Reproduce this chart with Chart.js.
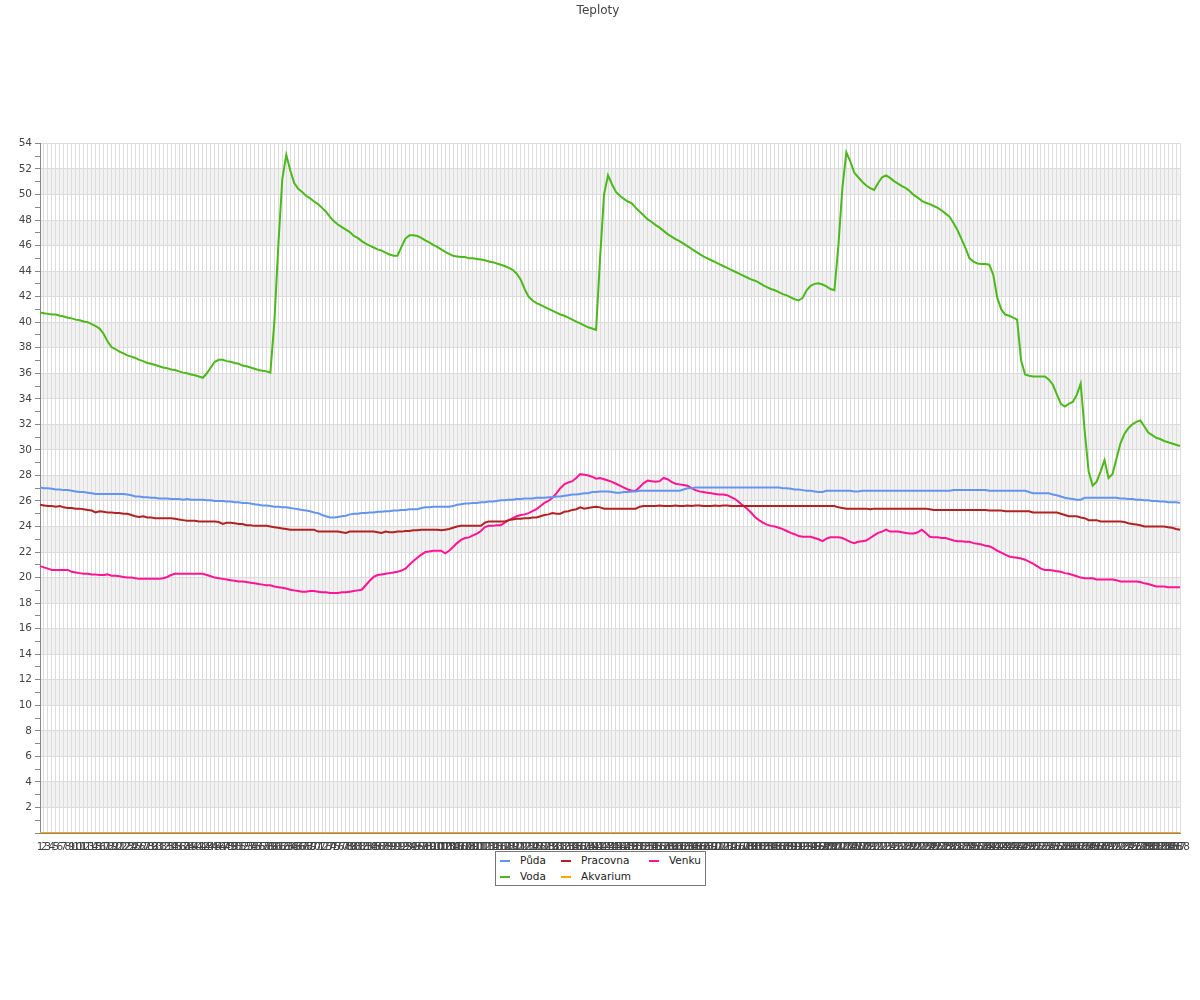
<!DOCTYPE html>
<html>
<head>
<meta charset="utf-8">
<title>Teploty</title>
<script src="https://cdn.jsdelivr.net/npm/chart.js@4.4.0/dist/chart.umd.min.js"></script>
<style>
  body { margin: 0; background: #fff; font-family: "DejaVu Sans", sans-serif; }
  #wrap { position: relative; width: 1200px; height: 1000px; }
  #legenda { position: absolute; left: 495px; top: 851px; width: 209px; height: 33px; border: 1px solid #777; background: #fff; font-size: 10.5px; color: #222; }
  .polozka { position: absolute; white-space: nowrap; line-height: 16px; }
  .polozka i { display: inline-block; width: 10px; height: 2px; vertical-align: middle; margin-right: 10px; }
</style>
</head>
<body>
<div id="wrap">
  <canvas id="graf" width="1200" height="1000"></canvas>
  <div id="legenda"></div>
</div>
<script>
// popisky osy x (vzorky 1..288)
var popisky = [
  1,2,3,4,5,6,7,8,9,10,11,12,13,14,15,16,17,18,19,20,21,22,23,24,25,26,27,28,29,30,
  31,32,33,34,35,36,37,38,39,40,41,42,43,44,45,46,47,48,49,50,51,52,53,54,55,56,57,58,59,60,
  61,62,63,64,65,66,67,68,69,70,71,72,73,74,75,76,77,78,79,80,81,82,83,84,85,86,87,88,89,90,
  91,92,93,94,95,96,97,98,99,100,101,102,103,104,105,106,107,108,109,110,111,112,113,114,115,116,117,118,119,120,
  121,122,123,124,125,126,127,128,129,130,131,132,133,134,135,136,137,138,139,140,141,142,143,144,145,146,147,148,149,150,
  151,152,153,154,155,156,157,158,159,160,161,162,163,164,165,166,167,168,169,170,171,172,173,174,175,176,177,178,179,180,
  181,182,183,184,185,186,187,188,189,190,191,192,193,194,195,196,197,198,199,200,201,202,203,204,205,206,207,208,209,210,
  211,212,213,214,215,216,217,218,219,220,221,222,223,224,225,226,227,228,229,230,231,232,233,234,235,236,237,238,239,240,
  241,242,243,244,245,246,247,248,249,250,251,252,253,254,255,256,257,258,259,260,261,262,263,264,265,266,267,268,269,270,
  271,272,273,274,275,276,277,278,279,280,281,282,283,284,285,286,287,288
];

var puda = [
  27.05,27.0,27.0,26.95,26.9,26.9,26.85,26.85,26.8,26.75,
  26.7,26.7,26.65,26.6,26.55,26.55,26.55,26.55,26.55,26.55,
  26.55,26.55,26.5,26.45,26.35,26.35,26.3,26.3,26.25,26.25,
  26.2,26.2,26.2,26.15,26.15,26.15,26.1,26.15,26.1,26.1,
  26.1,26.1,26.05,26.05,26.0,26.0,26.0,25.95,25.95,25.9,
  25.9,25.85,25.85,25.8,25.75,25.7,25.65,25.65,25.6,25.55,
  25.55,25.5,25.5,25.45,25.4,25.35,25.3,25.25,25.2,25.1,
  25.05,24.9,24.8,24.7,24.7,24.75,24.8,24.85,24.95,25.0,
  25.0,25.05,25.05,25.1,25.1,25.15,25.15,25.2,25.2,25.25,
  25.25,25.3,25.3,25.35,25.35,25.35,25.45,25.5,25.5,25.55,
  25.55,25.55,25.55,25.55,25.6,25.7,25.75,25.8,25.8,25.85,
  25.85,25.9,25.9,25.95,25.95,26.0,26.05,26.05,26.1,26.1,
  26.15,26.15,26.2,26.2,26.2,26.25,26.25,26.25,26.3,26.3,
  26.35,26.35,26.4,26.45,26.5,26.5,26.55,26.6,26.6,26.7,
  26.7,26.75,26.75,26.75,26.7,26.65,26.65,26.7,26.7,26.75,
  26.75,26.8,26.8,26.8,26.8,26.8,26.8,26.8,26.8,26.8,
  26.8,26.8,26.9,27.0,27.0,27.05,27.05,27.05,27.05,27.05,
  27.05,27.05,27.05,27.05,27.05,27.05,27.05,27.05,27.05,27.05,
  27.05,27.05,27.05,27.05,27.05,27.05,27.05,27.0,27.0,26.95,
  26.9,26.9,26.85,26.8,26.8,26.75,26.7,26.7,26.8,26.8,
  26.8,26.8,26.8,26.8,26.8,26.75,26.75,26.8,26.8,26.8,
  26.8,26.8,26.8,26.8,26.8,26.8,26.8,26.8,26.8,26.8,
  26.8,26.8,26.8,26.8,26.8,26.8,26.8,26.8,26.8,26.8,
  26.85,26.85,26.85,26.85,26.85,26.85,26.85,26.85,26.85,26.8,
  26.8,26.8,26.8,26.8,26.8,26.8,26.8,26.8,26.8,26.7,
  26.6,26.6,26.6,26.6,26.6,26.5,26.45,26.35,26.25,26.2,
  26.15,26.1,26.1,26.25,26.25,26.25,26.25,26.25,26.25,26.25,
  26.25,26.25,26.2,26.2,26.15,26.15,26.1,26.1,26.05,26.05,
  26.0,26.0,25.95,25.95,25.9,25.9,25.9,25.85
];

var pracovna = [
  25.7,25.65,25.6,25.6,25.55,25.6,25.5,25.45,25.45,25.4,
  25.4,25.35,25.3,25.25,25.1,25.2,25.15,25.1,25.1,25.05,
  25.05,25.0,25.0,24.9,24.8,24.75,24.8,24.7,24.7,24.65,
  24.65,24.65,24.65,24.65,24.6,24.55,24.5,24.45,24.45,24.45,
  24.4,24.4,24.4,24.4,24.4,24.35,24.2,24.3,24.3,24.25,
  24.2,24.2,24.1,24.1,24.05,24.05,24.05,24.05,24.0,23.95,
  23.9,23.85,23.8,23.75,23.75,23.75,23.75,23.75,23.75,23.75,
  23.6,23.6,23.6,23.6,23.6,23.6,23.55,23.5,23.6,23.6,
  23.6,23.6,23.6,23.6,23.6,23.55,23.5,23.6,23.55,23.55,
  23.6,23.6,23.65,23.65,23.7,23.7,23.75,23.75,23.75,23.75,
  23.75,23.7,23.75,23.8,23.9,24.0,24.05,24.05,24.05,24.05,
  24.05,24.05,24.3,24.4,24.4,24.4,24.4,24.4,24.5,24.55,
  24.6,24.6,24.65,24.65,24.7,24.7,24.8,24.9,24.95,25.05,
  25.0,25.0,25.15,25.2,25.3,25.35,25.5,25.4,25.45,25.5,
  25.55,25.5,25.4,25.4,25.4,25.4,25.4,25.4,25.4,25.4,
  25.4,25.55,25.6,25.6,25.6,25.6,25.65,25.6,25.6,25.6,
  25.65,25.6,25.6,25.65,25.6,25.65,25.65,25.6,25.6,25.6,
  25.65,25.6,25.65,25.65,25.6,25.6,25.6,25.6,25.6,25.6,
  25.6,25.6,25.6,25.6,25.6,25.6,25.6,25.6,25.6,25.6,
  25.6,25.6,25.6,25.6,25.6,25.6,25.6,25.6,25.6,25.6,
  25.6,25.5,25.45,25.4,25.4,25.4,25.4,25.4,25.4,25.35,
  25.4,25.4,25.4,25.4,25.4,25.4,25.4,25.4,25.4,25.4,
  25.4,25.4,25.4,25.4,25.35,25.3,25.3,25.3,25.3,25.3,
  25.3,25.3,25.3,25.3,25.3,25.3,25.3,25.3,25.3,25.25,
  25.25,25.25,25.25,25.2,25.2,25.2,25.2,25.2,25.2,25.2,
  25.1,25.1,25.1,25.1,25.1,25.1,25.1,25.0,24.9,24.8,
  24.8,24.8,24.7,24.65,24.5,24.5,24.5,24.4,24.4,24.4,
  24.4,24.4,24.4,24.35,24.25,24.2,24.15,24.1,24.0,24.0,
  24.0,24.0,24.0,24.0,23.95,23.9,23.8,23.75
];

var venku = [
  20.9,20.8,20.7,20.6,20.6,20.6,20.6,20.6,20.45,20.4,
  20.35,20.3,20.3,20.25,20.25,20.2,20.2,20.25,20.15,20.15,
  20.1,20.05,20.0,20.0,19.95,19.9,19.9,19.9,19.9,19.9,
  19.9,19.95,20.05,20.2,20.3,20.3,20.3,20.3,20.3,20.3,
  20.3,20.3,20.2,20.1,20.0,19.95,19.9,19.85,19.8,19.75,
  19.7,19.7,19.65,19.6,19.55,19.5,19.45,19.4,19.4,19.3,
  19.25,19.2,19.15,19.05,19.0,18.95,18.9,18.9,18.95,18.95,
  18.9,18.85,18.85,18.8,18.8,18.8,18.85,18.85,18.9,18.95,
  19.0,19.05,19.4,19.75,20.05,20.2,20.25,20.3,20.35,20.4,
  20.45,20.55,20.7,21.0,21.3,21.55,21.8,22.0,22.05,22.1,
  22.1,22.1,21.9,22.1,22.4,22.7,22.95,23.1,23.15,23.3,
  23.45,23.65,23.95,24.05,24.05,24.1,24.1,24.3,24.5,24.65,
  24.8,24.9,24.95,25.05,25.2,25.35,25.6,25.85,26.0,26.25,
  26.6,27.0,27.3,27.45,27.55,27.8,28.1,28.05,28.0,27.9,
  27.75,27.8,27.7,27.6,27.5,27.35,27.2,27.05,26.9,26.8,
  26.8,27.1,27.4,27.6,27.55,27.5,27.55,27.8,27.7,27.5,
  27.35,27.3,27.25,27.2,27.0,26.85,26.75,26.7,26.65,26.6,
  26.55,26.5,26.5,26.45,26.3,26.15,25.9,25.65,25.4,25.1,
  24.75,24.5,24.3,24.15,24.05,24.0,23.9,23.8,23.65,23.5,
  23.4,23.25,23.2,23.2,23.2,23.1,23.0,22.85,23.05,23.15,
  23.15,23.15,23.1,22.95,22.8,22.7,22.8,22.85,22.9,23.1,
  23.3,23.5,23.6,23.75,23.6,23.6,23.6,23.55,23.5,23.45,
  23.45,23.55,23.75,23.5,23.2,23.15,23.15,23.1,23.1,23.0,
  22.9,22.85,22.85,22.8,22.8,22.7,22.65,22.6,22.5,22.45,
  22.3,22.1,21.95,21.8,21.65,21.6,21.55,21.5,21.4,21.25,
  21.1,20.9,20.7,20.6,20.6,20.55,20.5,20.45,20.35,20.3,
  20.2,20.1,20.0,19.95,19.95,19.95,19.85,19.85,19.85,19.85,
  19.85,19.8,19.7,19.7,19.7,19.7,19.7,19.65,19.55,19.5,
  19.4,19.3,19.3,19.3,19.25,19.25,19.25,19.25
];

var voda = [
  40.75,40.7,40.65,40.6,40.6,40.5,40.45,40.35,40.3,40.2,
  40.15,40.05,40.0,39.85,39.7,39.5,39.1,38.5,38.05,37.9,
  37.7,37.55,37.4,37.3,37.2,37.05,36.95,36.8,36.75,36.65,
  36.55,36.45,36.4,36.3,36.25,36.15,36.05,36.0,35.9,35.85,
  35.75,35.65,36.0,36.45,36.9,37.05,37.05,36.95,36.9,36.8,
  36.75,36.6,36.55,36.45,36.35,36.25,36.2,36.15,36.05,40.0,
  46.0,51.2,53.1,51.9,50.9,50.45,50.2,49.9,49.7,49.45,
  49.25,48.95,48.65,48.25,47.9,47.65,47.45,47.25,47.05,46.75,
  46.6,46.35,46.15,46.0,45.85,45.7,45.6,45.45,45.3,45.2,
  45.2,45.9,46.55,46.8,46.8,46.75,46.6,46.4,46.25,46.05,
  45.9,45.7,45.5,45.35,45.2,45.15,45.1,45.1,45.0,45.0,
  44.95,44.9,44.85,44.75,44.7,44.6,44.5,44.4,44.25,44.1,
  43.8,43.35,42.6,42.0,41.7,41.5,41.35,41.2,41.05,40.9,
  40.75,40.6,40.5,40.35,40.2,40.05,39.9,39.75,39.6,39.5,
  39.4,45.0,50.0,51.5,50.8,50.2,49.9,49.65,49.45,49.3,
  48.95,48.65,48.35,48.05,47.85,47.6,47.4,47.15,46.9,46.7,
  46.5,46.35,46.15,45.95,45.75,45.55,45.35,45.15,45.0,44.85,
  44.7,44.55,44.4,44.25,44.1,43.95,43.8,43.65,43.5,43.35,
  43.25,43.1,42.9,42.75,42.6,42.5,42.35,42.2,42.1,41.95,
  41.8,41.7,41.9,42.5,42.85,43.0,43.05,42.95,42.8,42.6,
  42.5,46.0,50.5,53.3,52.6,51.7,51.35,51.0,50.7,50.5,
  50.35,50.9,51.35,51.5,51.3,51.05,50.85,50.65,50.5,50.25,
  49.95,49.75,49.5,49.35,49.25,49.1,48.95,48.75,48.5,48.25,
  47.75,47.2,46.5,45.8,45.0,44.75,44.6,44.55,44.55,44.5,
  43.7,41.9,41.0,40.6,40.5,40.35,40.2,37.0,35.9,35.8,
  35.75,35.75,35.75,35.75,35.5,35.1,34.35,33.6,33.4,33.6,
  33.75,34.3,35.2,31.5,28.3,27.2,27.5,28.3,29.2,27.8,
  28.1,29.3,30.5,31.25,31.7,32.0,32.2,32.3,31.85,31.35,
  31.15,30.95,30.85,30.7,30.6,30.5,30.4,30.3
];

var akvarium = [
  0,0,0,0,0,0,0,0,0,0,0,0,0,0,0,0,0,0,0,0,0,0,0,0,0,0,0,0,0,0,
  0,0,0,0,0,0,0,0,0,0,0,0,0,0,0,0,0,0,0,0,0,0,0,0,0,0,0,0,0,0,
  0,0,0,0,0,0,0,0,0,0,0,0,0,0,0,0,0,0,0,0,0,0,0,0,0,0,0,0,0,0,
  0,0,0,0,0,0,0,0,0,0,0,0,0,0,0,0,0,0,0,0,0,0,0,0,0,0,0,0,0,0,
  0,0,0,0,0,0,0,0,0,0,0,0,0,0,0,0,0,0,0,0,0,0,0,0,0,0,0,0,0,0,
  0,0,0,0,0,0,0,0,0,0,0,0,0,0,0,0,0,0,0,0,0,0,0,0,0,0,0,0,0,0,
  0,0,0,0,0,0,0,0,0,0,0,0,0,0,0,0,0,0,0,0,0,0,0,0,0,0,0,0,0,0,
  0,0,0,0,0,0,0,0,0,0,0,0,0,0,0,0,0,0,0,0,0,0,0,0,0,0,0,0,0,0,
  0,0,0,0,0,0,0,0,0,0,0,0,0,0,0,0,0,0,0,0,0,0,0,0,0,0,0,0,0,0,
  0,0,0,0,0,0,0,0,0,0,0,0,0,0,0,0,0,0
];

var nazvy = ['Půda', 'Pracovna', 'Venku', 'Voda', 'Akvarium'];
var barvy = ['#6495ed', '#b22222', '#ff1493', '#4cb81a', '#ffa500'];
var rady = [puda, pracovna, venku, voda, akvarium];

Chart.defaults.font.family = '"DejaVu Sans", sans-serif';

// stridave sede pruhy mezi mrizkou
var pruhy = {
    id: 'pruhy',
    beforeDraw: function(chart) {
        var c = chart.ctx, a = chart.chartArea, y = chart.scales.y;
        c.save();
        c.fillStyle = '#f2f2f2';
        for (var v = 2; v < 54; v += 4) {
            var t = y.getPixelForValue(v + 2), b = y.getPixelForValue(v);
            c.fillRect(a.left, t, a.right - a.left, b - t);
        }
        c.restore();
    }
};

var datasets = [];
for (var i = 0; i < nazvy.length; i++) {
    datasets.push({
        label: nazvy[i],
        data: rady[i],
        borderColor: barvy[i],
        backgroundColor: barvy[i],
        borderWidth: 2,
        pointRadius: 0,
        fill: false,
        tension: 0
    });
}

var ctx = document.getElementById('graf').getContext('2d');
var graf = new Chart(ctx, {
    type: 'line',
    data: { labels: popisky, datasets: datasets },
    plugins: [pruhy],
    options: {
        responsive: false,
        animation: false,
        layout: { padding: { left: 16, right: 20, top: 0, bottom: 146 } },
        plugins: {
            legend: { display: false },
            tooltip: { enabled: false },
            title: {
                display: true,
                text: 'Teploty',
                color: '#444',
                font: { size: 12, weight: 'normal' },
                padding: { top: 4, bottom: 125 }
            }
        },
        scales: {
            x: {
                grid: { color: '#dcdcdc', drawTicks: false },
                border: { color: '#888' },
                ticks: { autoSkip: false, maxRotation: 0, minRotation: 0, padding: 8, color: '#444', font: { size: 10.5 } },
                afterFit: function(s) { s.height = 21; }
            },
            y: {
                min: 0,
                max: 54,
                ticks: {
                    stepSize: 1,
                    autoSkip: false,
                    padding: 3,
                    color: '#444',
                    font: { size: 10.5 },
                    callback: function(v) { return (v % 2 === 0 && v !== 0) ? v : ''; }
                },
                grid: {
                    color: function(c) { return (c.tick && c.tick.value % 2 === 0) ? '#dcdcdc' : 'rgba(0,0,0,0)'; },
                    tickColor: '#888',
                    tickLength: 5
                },
                border: { color: '#888' },
                afterFit: function(s) { s.width = 24; }
            }
        }
    }
});

// legenda ve trech sloupcich pod grafem
var legenda = document.getElementById('legenda');
var sloupce = [4, 65, 153];
for (var j = 0; j < nazvy.length; j++) {
    var el = document.createElement('div');
    el.className = 'polozka';
    el.style.left = sloupce[j % 3] + 'px';
    el.style.top = (Math.floor(j / 3) * 16) + 'px';
    el.innerHTML = '<i style="background:' + barvy[j] + '"></i>' + nazvy[j];
    legenda.appendChild(el);
}
</script>
</body>
</html>
